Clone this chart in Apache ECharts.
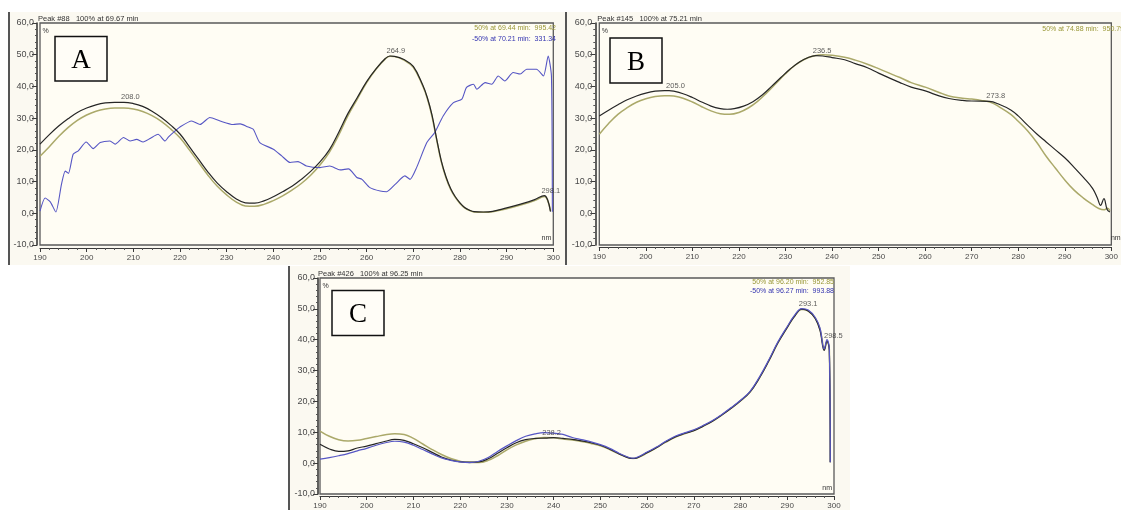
<!DOCTYPE html>
<html>
<head>
<meta charset="utf-8">
<script src="https://cdn.jsdelivr.net/npm/echarts@6/dist/echarts.min.js"></script>
<style>
  html, body { margin: 0; padding: 0; background: #ffffff; }
  #chart { width: 1121px; height: 510px; }
</style>
</head>
<body>
<div id="chart"></div>
<script>
// ---- axis ranges / tick labels ----
const xTicks = [190, 200, 210, 220, 230, 240, 250, 260, 270, 280, 290, 300];
const yTicks = [-10, 0, 10, 20, 30, 40, 50, 60];

// ---- panel A : Peak #88 (wavelength nm, absorbance %) ----
const peakA_100 = [
  [190, 21.8], [192, 24.8], [194, 27.5], [196, 29.8], [198, 31.8], [200, 33.2], [202, 34.2],
  [204, 34.8], [206, 35.0], [208, 35.0], [210, 34.6], [212, 33.7], [214, 32.2], [216, 30.2],
  [218, 27.8], [220, 25.0], [222, 21.0], [224, 17.0], [226, 13.0], [228, 9.5], [230, 6.8],
  [232, 4.6], [234, 3.3], [236, 3.2], [238, 3.9], [240, 5.2], [242, 6.8], [244, 8.5],
  [246, 10.7], [248, 13.2], [250, 16.2], [252, 20.0], [254, 25.5], [256, 31.5], [258, 36.5],
  [260, 41.5], [262, 45.5], [264, 48.8], [265, 49.6], [266, 49.5], [268, 48.5], [270, 46.3],
  [272, 40.5], [273, 36.5], [274, 31.0], [275, 23.5], [276, 16.5], [277, 11.5], [278, 7.8],
  [279, 5.2], [280, 3.3], [281, 1.8], [282, 1.0], [283, 0.5], [285, 0.4], [287, 0.6],
  [290, 1.7], [293, 2.9], [296, 4.3], [298.1, 5.6], [298.8, 4.2], [299.4, 0.5]
];
const peakA_50 = [
  [190, 18.0], [192, 21.0], [194, 24.2], [196, 27.0], [198, 29.3], [200, 31.0], [202, 32.2],
  [204, 32.9], [206, 33.2], [208, 33.2], [210, 32.9], [212, 32.1], [214, 30.8], [216, 29.0],
  [218, 26.6], [220, 23.8], [222, 20.0], [224, 16.0], [226, 12.0], [228, 8.5], [230, 5.8],
  [232, 3.6], [234, 2.3], [236, 2.2], [238, 2.8], [240, 4.0], [242, 5.5], [244, 7.3],
  [246, 9.4], [248, 12.0], [250, 15.2], [252, 19.2], [254, 24.6], [256, 30.8], [258, 36.0],
  [260, 41.2], [262, 45.4], [264, 48.7], [265, 49.5], [266, 49.4], [268, 48.3], [270, 46.0],
  [272, 40.2], [273, 36.2], [274, 30.6], [275, 23.2], [276, 16.2], [277, 11.2], [278, 7.5],
  [279, 5.0], [280, 3.1], [281, 1.7], [282, 0.9], [283, 0.4], [285, 0.3], [287, 0.5],
  [290, 1.4], [293, 2.6], [296, 4.0], [298.1, 5.3], [298.8, 4.0], [299.4, 0.8]
];
const peakA_m50 = [
  [190, 0.7], [191.1, 4.8], [192.2, 3.6], [193.4, 0.4], [194.6, 9.1], [195.4, 13.3],
  [196.1, 12.6], [197.1, 18.6], [198.2, 19.7], [199.9, 22.5], [201.4, 20.4], [202.9, 22.3],
  [205.0, 22.8], [206.1, 21.8], [207.9, 23.9], [209.3, 22.8], [210.7, 23.3], [212.1, 22.5],
  [213.6, 23.6], [215.3, 24.9], [216.8, 22.8], [217.5, 24.0], [218.6, 25.5], [220.0, 27.2],
  [222.5, 29.1], [224.3, 28.0], [226.4, 30.2], [228.6, 29.1], [231.4, 28.0], [232.9, 28.2],
  [234.3, 27.4], [235.7, 26.5], [237.1, 22.3], [240.0, 20.2], [241.8, 18.1], [243.6, 16.0],
  [245.3, 16.3], [247.1, 14.9], [250.0, 14.4], [252.1, 14.9], [254.3, 13.7], [256.1, 14.0],
  [257.9, 11.3], [259.0, 10.7], [260.7, 8.1], [262.9, 7.0], [264.3, 6.8], [266.1, 9.1],
  [268.2, 11.8], [269.3, 10.7], [270.7, 14.4], [272.9, 22.3], [274.6, 25.5], [276.4, 30.7],
  [278.6, 34.9], [280.4, 36.0], [281.4, 39.7], [282.9, 40.7], [283.6, 39.1], [285.4, 41.2],
  [286.8, 40.7], [288.2, 43.3], [289.6, 41.7], [291.4, 44.4], [292.9, 43.9], [294.3, 45.4],
  [296.4, 45.4], [297.9, 43.3], [298.9, 49.6], [299.6, 43.3], [299.8, 0.5]
];
const peakA_marks = [[208.0, 35.0], [264.9, 49.6], [298.1, 5.6]];

// ---- panel B : Peak #145 ----
const peakB_100 = [
  [190, 30.7], [192, 32.5], [194, 34.2], [196, 35.8], [198, 37.0], [200, 37.9], [202, 38.5],
  [204, 38.7], [205, 38.7], [206, 38.5], [208, 37.7], [210, 36.5], [212, 35.1], [214, 33.8],
  [216, 33.0], [217.5, 32.8], [219, 33.0], [221, 33.8], [223, 35.2], [225, 37.3], [227, 40.0],
  [229, 42.8], [231, 45.5], [233, 47.7], [235, 49.2], [236.5, 49.7], [238, 49.6], [240, 49.1],
  [242.7, 48.4], [245, 47.2], [247.6, 45.9], [250, 44.2], [254.6, 41.2], [257, 39.8],
  [260.2, 38.5], [263, 37.0], [265.1, 36.2], [268, 35.6], [270, 35.4], [273.8, 35.3],
  [276, 34.3], [278.4, 32.6], [280, 30.7], [282, 27.8], [284, 25.0], [286, 22.5], [288, 20.0],
  [290, 17.5], [292, 14.5], [294, 11.3], [296, 7.8], [297, 4.8], [297.7, 2.5], [298.4, 4.6],
  [299.1, 1.2], [299.7, 0.4]
];
const peakB_50 = [
  [190, 24.9], [192, 28.3], [194, 31.2], [196, 33.3], [198, 35.0], [200, 36.1], [202, 36.8],
  [204, 37.1], [205, 37.1], [206, 37.0], [208, 36.3], [210, 35.1], [212, 33.6], [214, 32.3],
  [216, 31.4], [218, 31.2], [220, 31.8], [222, 33.2], [224, 35.3], [226, 38.0], [228, 41.0],
  [230, 44.0], [232, 46.6], [234, 48.5], [236, 49.6], [238, 50.0], [240, 49.8], [242.7, 49.2],
  [245, 48.3], [247.6, 47.0], [250, 45.6], [254.6, 42.8], [257, 41.2], [260.2, 39.7],
  [263, 38.1], [265.1, 37.0], [268, 36.3], [270, 36.0], [272, 35.6], [274.2, 34.9], [276, 33.5],
  [278.4, 31.2], [280, 29.0], [282, 26.0], [284, 22.3], [286, 18.0], [288, 14.2], [290, 10.5],
  [292, 7.3], [294, 4.8], [296, 2.7], [297.3, 1.5], [298.5, 1.1], [299.2, 1.6], [299.7, 0.8]
];
const peakB_marks = [[205.0, 38.7], [236.5, 49.7], [273.8, 35.3]];

// ---- panel C : Peak #426 ----
const peakC_100 = [
  [190, 6.1], [192, 4.6], [194, 3.8], [196, 4.0], [198, 4.9], [200, 5.5], [202, 6.3],
  [204, 7.1], [206, 7.7], [208, 7.4], [210, 6.3], [212, 5.0], [214, 3.5], [216, 2.0],
  [218, 1.0], [220, 0.4], [222, 0.3], [224, 0.4], [226, 1.4], [228, 3.2], [230, 5.0],
  [232, 6.6], [234, 7.6], [236, 8.0], [238.2, 8.1], [240, 8.3], [242, 8.0], [244, 7.7],
  [246, 7.2], [248, 6.6], [250, 5.8], [252, 4.5], [254, 3.0], [256, 1.7], [257, 1.5],
  [258, 1.8], [260, 3.4], [262, 5.0], [264, 6.9], [266, 8.5], [268, 9.6], [270, 10.5],
  [272, 12.0], [274, 13.6], [276, 15.6], [278, 17.8], [280, 20.2], [282, 23.0], [284, 27.5],
  [286, 33.0], [288, 39.0], [290, 44.0], [291.5, 47.5], [293.1, 49.9], [294.5, 49.3],
  [296, 46.8], [297, 43.0], [297.9, 36.5], [298.5, 39.5], [299, 36.5], [299.2, 0.3]
];
const peakC_50 = [
  [190, 10.4], [192, 8.7], [194, 7.6], [196, 7.2], [198, 7.4], [200, 8.0], [202, 8.6],
  [204, 9.2], [206, 9.5], [208, 9.3], [210, 8.0], [212, 6.2], [214, 4.4], [216, 2.8],
  [218, 1.5], [220, 0.6], [222, 0.2], [224, 0.2], [226, 0.9], [228, 2.4], [230, 4.3],
  [232, 5.9], [234, 7.1], [236, 7.9], [238, 8.3], [240, 8.2], [242, 7.8], [244, 7.5],
  [246, 7.0], [248, 6.4], [250, 5.6], [252, 4.4], [254, 3.0], [256, 1.8], [257, 1.5],
  [258, 1.8], [260, 3.3], [262, 5.0], [264, 6.8], [266, 8.4], [268, 9.5], [270, 10.6],
  [272, 12.0], [274, 13.6], [276, 15.6], [278, 17.8], [280, 20.2], [282, 23.0], [284, 27.5],
  [286, 33.0], [288, 39.0], [290, 44.0], [291.5, 47.5], [293.1, 49.8], [294.5, 49.3],
  [296, 47.0], [297, 43.5], [298, 37.0], [298.5, 39.5], [299, 37.0], [299.2, 0.3]
];
const peakC_m50 = [
  [190, 1.3], [192, 1.8], [194, 2.4], [196, 3.1], [198, 4.0], [200, 4.8], [202, 5.8],
  [204, 6.6], [206, 7.1], [208, 6.8], [210, 5.8], [212, 4.4], [214, 3.0], [216, 1.7],
  [218, 0.9], [220, 0.4], [222, 0.2], [224, 0.6], [226, 1.8], [228, 3.8], [230, 5.6],
  [232, 7.3], [234, 8.7], [236, 9.5], [238, 9.9], [240, 9.7], [242, 9.3], [244, 8.3],
  [246, 7.6], [248, 6.9], [250, 6.0], [252, 4.8], [254, 3.2], [256, 1.9], [257, 1.6],
  [258, 2.0], [260, 3.6], [262, 5.2], [264, 7.1], [266, 8.7], [268, 9.8], [270, 10.8],
  [272, 12.2], [274, 13.8], [276, 15.8], [278, 18.0], [280, 20.4], [282, 23.2], [284, 27.8],
  [286, 33.3], [288, 39.3], [290, 44.3], [291.5, 47.8], [293.1, 50.1], [294.5, 49.6],
  [296, 47.2], [297, 43.8], [297.9, 37.0], [298.5, 40.0], [299, 37.0], [299.2, 0.3]
];
const peakC_marks = [[238.2, 8.1], [293.1, 49.9], [298.5, 39.5]];

// ---- header / legend texts ----
const titles = ['Peak #88   100% at 69.67 min', 'Peak #145   100% at 75.21 min', 'Peak #426   100% at 96.25 min'];
const legendA = ['50% at 69.44 min:  995.42', '-50% at 70.21 min:  331.34'];
const legendB = ['50% at 74.88 min:  950.79'];
const legendC = ['50% at 96.20 min:  952.85', '-50% at 96.27 min:  993.88'];
const panelLetters = ['A', 'B', 'C'];

// ---- styling ----
const COL_100 = '#262626';
const COL_50 = '#aba96a';
const COL_M50 = '#5656c4';
const TXT_50 = '#9a9838';
const TXT_M50 = '#3434b0';
const PLOT_BG = '#fffdf4';
const PANEL_BG = '#fbf9f1';
const FONT = 'Liberation Sans, Arial, sans-serif';

// plot-area geometry of the three panels (pixels)
const panels = [
  { left: 40,    top: 23,  width: 513.3, height: 222, yOff: 3, xOff: 3 },
  { left: 599.3, top: 23,  width: 523.3, height: 222, yOff: 4, xOff: 2 },
  { left: 320,   top: 278, width: 514,   height: 217, yOff: 2, xOff: 2 }
];

const grids = panels.map(p => ({
  left: p.left, top: p.top, width: p.width, height: p.height,
  show: true, backgroundColor: PLOT_BG, borderColor: '#5a5a5a', borderWidth: 1.3
}));

const xAxes = panels.map((p, i) => ({
  type: 'value', gridIndex: i, min: xTicks[0], max: xTicks[xTicks.length - 1], interval: 10,
  offset: p.xOff,
  axisLine: { show: true, onZero: false, lineStyle: { color: '#3a3a3a', width: 1.2 } },
  axisTick: { show: true, length: 4, lineStyle: { color: '#3a3a3a' } },
  minorTick: { show: true, splitNumber: 5, length: 2, lineStyle: { color: '#555' } },
  axisLabel: { show: true, fontSize: 8, color: '#4a4a4a', fontFamily: FONT, margin: 6,
               showMinLabel: true, showMaxLabel: true },
  splitLine: { show: false }
}));

const yAxes = panels.map((p, i) => ({
  type: 'value', gridIndex: i, min: yTicks[0], max: yTicks[yTicks.length - 1], interval: 10,
  offset: p.yOff,
  axisLine: { show: true, onZero: false, lineStyle: { color: '#3a3a3a', width: 1.6 } },
  axisTick: { show: true, length: 5, lineStyle: { color: '#3a3a3a' } },
  minorTick: { show: true, splitNumber: 5, length: 2, lineStyle: { color: '#555' } },
  axisLabel: { show: true, fontSize: 9, color: '#4a4a4a', fontFamily: FONT, margin: 3,
               formatter: v => v.toFixed(1).replace('.', ',') },
  splitLine: { show: false }
}));

function spectrum(name, data, color, width, idx, smooth) {
  return {
    name, type: 'line', data, xAxisIndex: idx, yAxisIndex: idx,
    showSymbol: false, smooth, silent: true, z: 3,
    lineStyle: { color, width }
  };
}

function peakLabels(data, idx) {
  return {
    type: 'scatter', data, xAxisIndex: idx, yAxisIndex: idx, symbolSize: 0, silent: true, z: 5,
    label: {
      show: true, position: 'top', distance: 1, align: 'left', offset: [-3, 0],
      fontSize: 7.5, color: '#333', fontFamily: FONT,
      formatter: p => p.value[0].toFixed(1)
    }
  };
}

const series = [
  spectrum('A 50%', peakA_50, COL_50, 1.5, 0, 0.4),
  spectrum('A -50%', peakA_m50, COL_M50, 1.1, 0, 0.2),
  spectrum('A 100%', peakA_100, COL_100, 1.2, 0, 0.4),
  peakLabels(peakA_marks, 0),
  spectrum('B 50%', peakB_50, COL_50, 1.5, 1, 0.4),
  spectrum('B 100%', peakB_100, COL_100, 1.2, 1, 0.4),
  peakLabels(peakB_marks, 1),
  spectrum('C 50%', peakC_50, COL_50, 1.5, 2, 0.4),
  spectrum('C 100%', peakC_100, COL_100, 1.2, 2, 0.4),
  spectrum('C -50%', peakC_m50, COL_M50, 1.2, 2, 0.4),
  peakLabels(peakC_marks, 2)
];

// ---- panel frames, headers, legends and letter boxes ----
const frames = [
  { x: 8,   y: 12,  w: 557, h: 253 },
  { x: 565, y: 12,  w: 556, h: 253 },
  { x: 288, y: 266, w: 562, h: 244 }
];
const graphic = [];
frames.forEach((f, i) => {
  graphic.push({ type: 'rect', z: -10, shape: { x: f.x, y: f.y, width: f.w, height: f.h },
                 style: { fill: PANEL_BG } });
  graphic.push({ type: 'line', z: 50, shape: { x1: f.x + 1, y1: f.y, x2: f.x + 1, y2: f.y + f.h },
                 style: { stroke: '#555', lineWidth: 2 } });
});
const textStyle = (text, x, y, fill, align, size) => ({
  type: 'text', z: 60, x, y,
  style: { text, fill, fontSize: size || 7, fontFamily: FONT, textAlign: align || 'left', textVerticalAlign: 'middle' }
});
panels.forEach((p, i) => {
  graphic.push(textStyle(titles[i], p.left - 2, p.top - 4, '#333', 'left', 7.5));
  graphic.push(textStyle('%', p.left + 2.5, p.top + 8.5, '#333'));
  graphic.push(textStyle('nm', p.left + p.width - 2, p.top + p.height - 7, '#333', 'right'));
});
legendA.forEach((t, j) => graphic.push(textStyle(t, 556, 28.5 + j * 10.3, j ? TXT_M50 : TXT_50, 'right')));
legendB.forEach((t, j) => graphic.push(textStyle(t, 1124, 29, TXT_50, 'right')));
legendC.forEach((t, j) => graphic.push(textStyle(t, 834, 282 + j * 9.5, j ? TXT_M50 : TXT_50, 'right')));

const boxes = [
  { x: 55,  y: 36.5, w: 52, h: 44.5 },
  { x: 610, y: 38,   w: 52, h: 45 },
  { x: 332, y: 290.5, w: 52, h: 45 }
];
boxes.forEach((b, i) => {
  graphic.push({ type: 'rect', z: 70, shape: { x: b.x, y: b.y, width: b.w, height: b.h },
                 style: { fill: '#fffdf7', stroke: '#111', lineWidth: 1.5 } });
  graphic.push({ type: 'text', z: 71, x: b.x + b.w / 2, y: b.y + b.h / 2 + 2,
                 style: { text: panelLetters[i], fill: '#000', fontSize: 27,
                          fontFamily: 'Liberation Serif, Times New Roman, serif',
                          textAlign: 'center', textVerticalAlign: 'middle' } });
});

const chart = echarts.init(document.getElementById('chart'), null, { renderer: 'canvas' });
chart.setOption({
  animation: false,
  backgroundColor: '#ffffff',
  grid: grids,
  xAxis: xAxes,
  yAxis: yAxes,
  series,
  graphic
});
</script>
</body>
</html>
